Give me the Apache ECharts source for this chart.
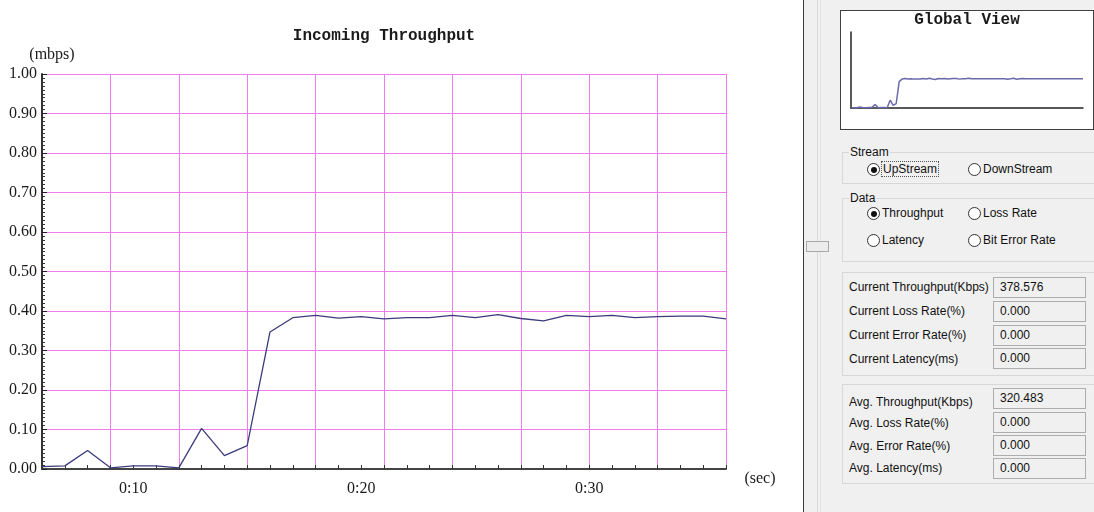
<!DOCTYPE html>
<html>
<head>
<meta charset="utf-8">
<script src="https://cdn.jsdelivr.net/npm/echarts@6/dist/echarts.min.js"></script>
<style>
  html, body { margin:0; padding:0; width:1094px; height:512px; overflow:hidden; background:#ffffff; }
  #panel { position:absolute; left:803px; top:0; width:291px; height:512px; background:#f0f0f0; border-left:1px solid #3a3a3a; box-sizing:border-box; z-index:1; font-family:"Liberation Sans", Arial, sans-serif; font-size:12px; color:#111; }
  .abs { position:absolute; }
  .vline { position:absolute; top:0; width:1px; height:512px; background:#d9d9d9; }
  .gbox { position:absolute; border:1px solid #d8d8d8; box-sizing:border-box; }
  .glabel { position:absolute; background:#f0f0f0; padding:0 1px; line-height:14px; height:14px; }
  .radio { position:absolute; width:13px; height:13px; border:1px solid #333; border-radius:50%; background:#fff; box-sizing:border-box; }
  .radio.on::after { content:""; position:absolute; left:2.5px; top:2.5px; width:6px; height:6px; border-radius:50%; background:#111; }
  .rtext { position:absolute; line-height:14px; height:14px; white-space:nowrap; }
  .lbl { position:absolute; line-height:14px; height:14px; white-space:nowrap; }
  .tbox { position:absolute; width:93px; height:21px; border:1px solid #adadad; box-sizing:border-box; background:#f0f0f0; padding-left:6px; line-height:19px; }
  #chart { position:absolute; left:0; top:0; width:1094px; height:512px; z-index:2; }
</style>
</head>
<body>
<div id="panel">
  <div class="vline" style="left:13px;"></div>
  <div class="vline" style="left:16px; background:#e2e2e2;"></div>
</div>
<div class="abs" style="left:806px; top:241px; width:23px; height:11px; background:#ececec; border:1px solid #a8a8a8; box-sizing:border-box; z-index:1;"></div>
<div class="abs" style="left:840px; top:10px; width:254px; height:120px; background:#fff; border:1px solid #404040; box-sizing:border-box; z-index:1;"></div>
<div id="ctrls" class="abs" style="left:0; top:0; width:1094px; height:512px; z-index:1; font-family:'Liberation Sans', Arial, sans-serif; font-size:12px; color:#111;">
  <!-- Stream -->
  <div class="gbox" style="left:842px; top:152px; width:260px; height:32px;"></div>
  <div class="glabel" style="left:849px; top:145px;">Stream</div>
  <div class="radio on" style="left:867px; top:163px;"></div>
  <div class="rtext" style="left:882px; top:162px; outline:1px dotted #555; outline-offset:0px; padding:0 1px;">UpStream</div>
  <div class="radio" style="left:968px; top:163px;"></div>
  <div class="rtext" style="left:983px; top:162px;">DownStream</div>
  <!-- Data -->
  <div class="gbox" style="left:842px; top:198px; width:260px; height:64px;"></div>
  <div class="glabel" style="left:849px; top:191px;">Data</div>
  <div class="radio on" style="left:867px; top:207px;"></div>
  <div class="rtext" style="left:882px; top:206px;">Throughput</div>
  <div class="radio" style="left:968px; top:207px;"></div>
  <div class="rtext" style="left:983px; top:206px;">Loss Rate</div>
  <div class="radio" style="left:867px; top:234px;"></div>
  <div class="rtext" style="left:882px; top:233px;">Latency</div>
  <div class="radio" style="left:968px; top:234px;"></div>
  <div class="rtext" style="left:983px; top:233px;">Bit Error Rate</div>
  <!-- Current -->
  <div class="gbox" style="left:842px; top:272px; width:260px; height:104px;"></div>
  <div class="lbl" style="left:849px; top:280px;">Current Throughput(Kbps)</div>
  <div class="tbox" style="left:993px; top:277px;">378.576</div>
  <div class="lbl" style="left:849px; top:304px;">Current Loss Rate(%)</div>
  <div class="tbox" style="left:993px; top:301px;">0.000</div>
  <div class="lbl" style="left:849px; top:328px;">Current Error Rate(%)</div>
  <div class="tbox" style="left:993px; top:325px;">0.000</div>
  <div class="lbl" style="left:849px; top:352px;">Current Latency(ms)</div>
  <div class="tbox" style="left:993px; top:348px;">0.000</div>
  <!-- Avg -->
  <div class="gbox" style="left:842px; top:384px; width:260px; height:100px;"></div>
  <div class="lbl" style="left:849px; top:395px;">Avg. Throughput(Kbps)</div>
  <div class="tbox" style="left:993px; top:388px;">320.483</div>
  <div class="lbl" style="left:849px; top:416px;">Avg. Loss Rate(%)</div>
  <div class="tbox" style="left:993px; top:412px;">0.000</div>
  <div class="lbl" style="left:849px; top:439px;">Avg. Error Rate(%)</div>
  <div class="tbox" style="left:993px; top:435px;">0.000</div>
  <div class="lbl" style="left:849px; top:461px;">Avg. Latency(ms)</div>
  <div class="tbox" style="left:993px; top:458px;">0.000</div>
</div>
<div id="chart"></div>
<script>
// ---- data ----
const seconds = [6, 7, 8, 9, 10, 11, 12, 13, 14, 15, 16, 17, 18, 19, 20, 21, 22, 23, 24, 25, 26, 27, 28, 29, 30, 31, 32, 33, 34, 35, 36];
const throughputMbps = [0.006, 0.008, 0.047, 0.003, 0.008, 0.008, 0.003, 0.103, 0.034, 0.059, 0.347, 0.383, 0.389, 0.382, 0.386, 0.380, 0.383, 0.383, 0.389, 0.383, 0.391, 0.381, 0.375, 0.389, 0.386, 0.389, 0.383, 0.386, 0.387, 0.387, 0.380];
const xTickLabels = { 10: '0:10', 20: '0:20', 30: '0:30' };

const globalSeconds = [0, 1, 2, 3, 4, 5, 6, 7, 8, 9, 10, 11, 12, 13, 14, 15, 16, 17, 18, 19, 20, 21, 22, 23, 24, 25, 26, 27, 28, 29, 30, 31, 32, 33, 34, 35, 36, 37, 38, 39, 40, 41, 42, 43, 44, 45, 46, 47, 48, 49, 50, 51, 52, 53, 54, 55, 56, 57, 58, 59, 60, 61, 62, 63, 64, 65, 66, 67, 68, 69, 70, 71, 72, 73, 74, 75, 76, 77];
const globalMbps = [0.002, 0.004, 0.003, 0.012, 0.003, 0.003, 0.006, 0.008, 0.047, 0.003, 0.008, 0.008, 0.003, 0.103, 0.034, 0.059, 0.347, 0.383, 0.389, 0.382, 0.386, 0.380, 0.383, 0.383, 0.389, 0.383, 0.391, 0.381, 0.375, 0.389, 0.386, 0.389, 0.383, 0.386, 0.387, 0.387, 0.380, 0.385, 0.386, 0.391, 0.385, 0.385, 0.385, 0.385, 0.385, 0.385, 0.385, 0.385, 0.385, 0.385, 0.385, 0.385, 0.378, 0.384, 0.391, 0.379, 0.385, 0.388, 0.385, 0.385, 0.385, 0.385, 0.385, 0.385, 0.385, 0.385, 0.385, 0.385, 0.385, 0.385, 0.385, 0.385, 0.385, 0.385, 0.385, 0.385, 0.385, 0.385];

const mainTitle = 'Incoming Throughput';
const globalTitle = 'Global View';
const yUnit = '(mbps)';
const xUnit = '(sec)';

// ---- chart ----
const chart = echarts.init(document.getElementById('chart'), null, { renderer: 'canvas' });
const serif = '"Liberation Serif", "Times New Roman", serif';
const mono = '"Liberation Mono", "Courier New", monospace';
const gridColor = '#f07cf0';

const option = {
  animation: false,
  backgroundColor: 'transparent',
  grid: [
    { left: 42, top: 74, width: 684, height: 395, containLabel: false },
    { left: 851, top: 32, width: 232, height: 76, containLabel: false }
  ],
  graphic: [
    { type: 'text', x: 384, y: 36, style: { text: mainTitle, font: 'bold 16px ' + mono, fill: '#1a1a1a', textAlign: 'center', textVerticalAlign: 'middle' } },
    { type: 'text', x: 52, y: 55, style: { text: yUnit, font: '16px ' + serif, fill: '#1a1a1a', textAlign: 'center', textVerticalAlign: 'middle' } },
    { type: 'text', x: 760, y: 479, style: { text: xUnit, font: '16px ' + serif, fill: '#1a1a1a', textAlign: 'center', textVerticalAlign: 'middle' } },
    { type: 'text', x: 967, y: 20, style: { text: globalTitle, font: 'bold 16px ' + mono, fill: '#1a1a1a', textAlign: 'center', textVerticalAlign: 'middle' } }
  ],
  xAxis: [
    {
      type: 'value', gridIndex: 0, min: 6, max: 36, interval: 1,
      axisLine: { show: true, onZero: false, lineStyle: { color: '#444', width: 2 } },
      axisTick: { show: true, inside: true, length: 4, lineStyle: { color: '#333', width: 1 } },
      axisLabel: {
        show: true, margin: 12, color: '#1a1a1a', fontFamily: serif, fontSize: 16,
        formatter: function (v) { return xTickLabels[v] || ''; }
      },
      splitLine: { show: false }
    },
    {
      type: 'value', gridIndex: 0, min: 6, max: 36, interval: 3, position: 'bottom',
      axisLine: { show: false }, axisTick: { show: false }, axisLabel: { show: false },
      splitLine: { show: true, lineStyle: { color: gridColor, width: 1 } }
    },
    {
      type: 'value', gridIndex: 1, min: 0, max: 77,
      axisLine: { show: true, onZero: false, lineStyle: { color: '#222', width: 1.5 } },
      axisTick: { show: false }, axisLabel: { show: false }, splitLine: { show: false }
    }
  ],
  yAxis: [
    {
      type: 'value', gridIndex: 0, min: 0, max: 1, interval: 0.1,
      axisLine: { show: true, lineStyle: { color: '#333', width: 2 } },
      axisTick: { show: true, inside: true, length: 5, lineStyle: { color: '#222', width: 1 } },
      minorTick: { show: true, splitNumber: 10, length: 3, lineStyle: { color: '#333', width: 1 } },
      axisLabel: { show: true, margin: 5, color: '#1a1a1a', fontFamily: serif, fontSize: 16, formatter: function (v) { return v.toFixed(2); } },
      splitLine: { show: true, lineStyle: { color: gridColor, width: 1 } }
    },
    {
      type: 'value', gridIndex: 1, min: 0, max: 1,
      axisLine: { show: true, lineStyle: { color: '#222', width: 1.5 } },
      axisTick: { show: false }, axisLabel: { show: false }, splitLine: { show: false }
    }
  ],
  series: [
    {
      name: 'Incoming Throughput', type: 'line', xAxisIndex: 0, yAxisIndex: 0,
      data: seconds.map(function (s, i) { return [s, throughputMbps[i]]; }),
      showSymbol: false, symbol: 'none', smooth: false,
      lineStyle: { color: '#3b3b7e', width: 1.3 }, z: 5
    },
    {
      name: 'Global View', type: 'line', xAxisIndex: 2, yAxisIndex: 1,
      data: globalSeconds.map(function (s, i) { return [s, globalMbps[i]]; }),
      showSymbol: false, symbol: 'none', smooth: false,
      lineStyle: { color: '#6a6aaa', width: 1.5 }, z: 5
    }
  ]
};
chart.setOption(option);
</script>
</body>
</html>
